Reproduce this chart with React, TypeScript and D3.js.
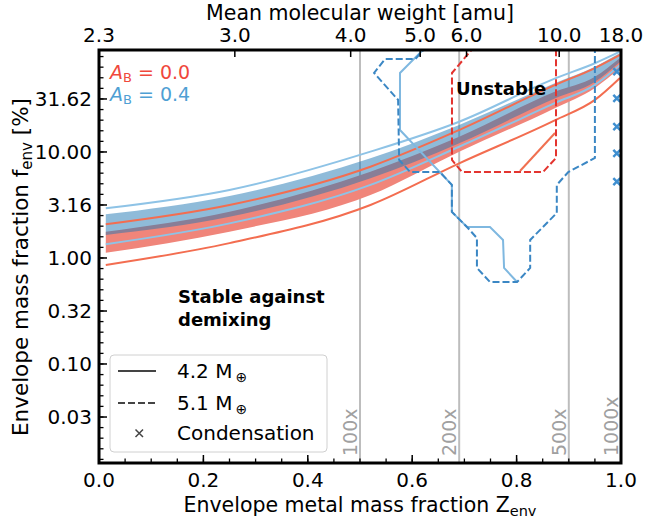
import React from "react";
import * as d3 from "d3";

// ---------- data ----------
const Z_SAMPLES = [0.013, 0.25, 0.52, 0.69, 0.874, 0.95, 0.998];
const BLUE_UPPER_LINE = [2.94, 4.38, 10.07, 19.3, 49.5, 68.7, 88.3];
const BLUE_BAND_TOP = [2.58, 3.85, 8.73, 18.0, 44.8, 63.8, 85.9];
const BLUE_BAND_BOTTOM = [1.65, 2.45, 5.65, 12.1, 32.1, 46.0, 70.6];
const BLUE_LOWER_LINE = [1.35, 2.12, 4.89, 11.2, 29.0, 42.9, 66.2];
const RED_UPPER_LINE = [2.08, 3.16, 7.26, 16.1, 42.9, 61.9, 82.3];
const RED_BAND_TOP = [1.77, 2.73, 6.52, 13.9, 37.1, 51.3, 77.1];
const RED_BAND_BOTTOM = [1.12, 1.77, 3.93, 10.07, 26.0, 40.2, 61.9];
const RED_LOWER_LINE = [0.86, 1.38, 3.16, 7.82, 20.0, 31.0, 49.9];

// instability contours [Z_env, f_env %]
const BLUE_DASHED_CONTOUR: [number, number][] = [
  [0.628, 100], [0.606, 75.3], [0.548, 75.3], [0.527, 55.6], [0.573, 31.0],
  [0.575, 8.41], [0.596, 6.47], [0.653, 6.47], [0.676, 4.89], [0.676, 2.72],
  [0.705, 1.96], [0.724, 1.54], [0.724, 0.805], [0.749, 0.594], [0.801, 0.594],
  [0.826, 0.805], [0.826, 1.48], [0.877, 2.66], [0.877, 4.89], [0.899, 6.47],
  [0.95, 8.78], [0.95, 100],
];
const BLUE_SOLID_CONTOUR: [number, number][] = [
  [0.628, 100], [0.5766, 55.6], [0.5766, 16.1], [0.676, 4.89], [0.676, 2.72],
  [0.705, 1.96], [0.749, 1.96], [0.774, 1.48], [0.776, 0.805], [0.801, 0.594],
];
const RED_DASHED_CONTOUR: [number, number][] = [
  [0.72, 100], [0.6762, 55.6], [0.6762, 8.41], [0.6954, 6.47], [0.8506, 6.47],
  [0.8755, 8.78], [0.8755, 100],
];
const RED_SOLID_CONTOUR: [number, number][] = [
  [0.8065, 6.62], [0.8736, 15.1],
];

const CONDENSATION_Z = 0.992;
const CONDENSATION_F = [57.2, 32.1, 17.3, 9.72, 5.25];

const METALLICITY_Z = [0.5, 0.69, 0.9, 1.0];
const METALLICITY_LABELS = ["100x", "200x", "500x", "1000x"];

const X_TICKS = [0, 0.2, 0.4, 0.6, 0.8, 1.0];
const Y_TICKS = [0.0316, 0.1, 0.316, 1, 3.162, 10, 31.62];
const Y_TICK_LABELS = ["0.03", "0.10", "0.32", "1.00", "3.16", "10.00", "31.62"];
const MU_TICKS = [2.32, 3, 4, 5, 6, 10, 18];
const MU_TICK_LABELS = ["2.3", "3.0", "4.0", "5.0", "6.0", "10.0", "18.0"];
const MU_H = 2.32;
const MU_Z = 18;

const Y_MIN = 0.01164;
const Y_MAX = 91.6;

const FONT = "DejaVu Sans, sans-serif";

export default function App() {
  const W = 647, H = 518;
  const L = 99, R = 621, T = 50, B = 463;
  const x = d3.scaleLinear().domain([0, 1]).range([L, R]);
  const y = d3.scaleLog().domain([Y_MIN, Y_MAX]).range([B, T]);

  const muToZ = (mu: number) => (1 / MU_H - 1 / mu) / (1 / MU_H - 1 / MU_Z);

  const lineGen = d3
    .line<number>()
    .x((_, i) => x(Z_SAMPLES[i]))
    .y((d) => y(d))
    .curve(d3.curveMonotoneX);
  const areaGen = (top: number[], bottom: number[]) =>
    d3
      .area<number>()
      .x((_, i) => x(Z_SAMPLES[i]))
      .y1((_, i) => y(top[i]))
      .y0((_, i) => y(bottom[i]))
      .curve(d3.curveMonotoneX)(top) || "";
  const contour = d3
    .line<[number, number]>()
    .x((d) => x(d[0]))
    .y((d) => y(d[1]));

  const xMinor = d3.range(0, 1.0001, 0.05);
  const yMinor: number[] = [];
  for (let k = -20; k <= 20; k++) {
    const v = Math.pow(10, k / 10);
    if (v >= Y_MIN && v <= Y_MAX) yMinor.push(v);
  }

  const red = "#f0483c";
  const blue = "#4f9fd4";
  const redLine = "#f36d50";
  const blueLine = "#8ec3e6";

  return (
    <svg
      width={W}
      height={H}
      style={{ position: "absolute", left: 0, top: 0, background: "white" }}
      fontFamily={FONT}
    >
      <defs>
        <clipPath id="plot">
          <rect x={L} y={T} width={R - L} height={B - T} />
        </clipPath>
      </defs>
      <rect x={0} y={0} width={W} height={H} fill="white" />

      <g clipPath="url(#plot)">
        {METALLICITY_Z.map((z, i) => (
          <line key={i} x1={x(z)} x2={x(z)} y1={T} y2={B} stroke="#bdbdbd" strokeWidth={2} />
        ))}

        <path d={areaGen(RED_BAND_TOP, RED_BAND_BOTTOM)} fill="#f0857a" />
        <path d={areaGen(BLUE_BAND_TOP, BLUE_BAND_BOTTOM)} fill="#1f77b4" fillOpacity={0.5} />

        <path d={lineGen(RED_UPPER_LINE) || ""} fill="none" stroke={redLine} strokeWidth={2} />
        <path d={lineGen(RED_LOWER_LINE) || ""} fill="none" stroke={redLine} strokeWidth={2} />
        <path d={lineGen(BLUE_UPPER_LINE) || ""} fill="none" stroke={blueLine} strokeWidth={2} />
        <path d={lineGen(BLUE_LOWER_LINE) || ""} fill="none" stroke={blueLine} strokeWidth={2} />

        <path d={contour(BLUE_SOLID_CONTOUR) || ""} fill="none" stroke="#7fb8e0" strokeWidth={2} />
        <path d={contour(BLUE_DASHED_CONTOUR) || ""} fill="none" stroke="#3b87c4" strokeWidth={2} strokeDasharray="7,3" />
        <path d={contour(RED_SOLID_CONTOUR) || ""} fill="none" stroke="#f07050" strokeWidth={2} />
        <path d={contour(RED_DASHED_CONTOUR) || ""} fill="none" stroke="#e3342f" strokeWidth={2} strokeDasharray="7,3" />

        {CONDENSATION_F.map((f, i) => {
          const cx = x(CONDENSATION_Z), cy = y(f), s = 3.5;
          return (
            <path key={i} d={`M${cx - s},${cy - s}L${cx + s},${cy + s}M${cx - s},${cy + s}L${cx + s},${cy - s}`}
              stroke="#3f8fd0" strokeWidth={2.5} />
          );
        })}
      </g>

      {METALLICITY_Z.map((z, i) => (
        <text key={i} transform={`translate(${x(z) - 3},${B - 7}) rotate(-90)`} fontSize={19} fill="#a0a0a0">
          {METALLICITY_LABELS[i]}
        </text>
      ))}

      <text x={110} y={79} fontSize={19} fill={red}>
        <tspan fontStyle="italic">A</tspan>
        <tspan fontSize={13} dy={3}>B</tspan>
        <tspan dy={-3}> = 0.0</tspan>
      </text>
      <text x={110} y={101} fontSize={19} fill={blue}>
        <tspan fontStyle="italic">A</tspan>
        <tspan fontSize={13} dy={3}>B</tspan>
        <tspan dy={-3}> = 0.4</tspan>
      </text>
      <text x={456} y={95} fontSize={18} fontWeight="bold">Unstable</text>
      <text x={178} y={303} fontSize={18} fontWeight="bold">Stable against</text>
      <text x={178} y={326} fontSize={18} fontWeight="bold">demixing</text>

      <rect x={110} y={355} width={217} height={97} rx={4} fill="white" fillOpacity={0.85} stroke="#d0d0d0" strokeWidth={1} />
      <line x1={118} x2={156} y1={371} y2={371} stroke="#444" strokeWidth={2} />
      <line x1={118} x2={156} y1={403} y2={403} stroke="#444" strokeWidth={2} strokeDasharray="7,3" />
      <path d="M135.5,429.5L143,437M135.5,437L143,429.5" stroke="#444" strokeWidth={1.5} />
      <text x={177} y={378} fontSize={20}>4.2 M<tspan fontSize={14} dx={3} dy={4}>⊕</tspan></text>
      <text x={177} y={410} fontSize={20}>5.1 M<tspan fontSize={14} dx={3} dy={4}>⊕</tspan></text>
      <text x={177} y={440} fontSize={20}>Condensation</text>

      <rect x={L} y={T} width={R - L} height={B - T} fill="none" stroke="black" strokeWidth={3} />

      {xMinor.map((v, i) => (
        <line key={i} x1={x(v)} x2={x(v)} y1={B} y2={B - 4.5} stroke="black" strokeWidth={1.3} />
      ))}
      {X_TICKS.map((v, i) => (
        <g key={i}>
          <line x1={x(v)} x2={x(v)} y1={B} y2={B - 8} stroke="black" strokeWidth={1.5} />
          <text x={x(v)} y={487} fontSize={20} textAnchor="middle">{v.toFixed(1)}</text>
        </g>
      ))}
      <text x={(L + R) / 2} y={512} fontSize={20.5} textAnchor="middle">
        Envelope metal mass fraction Z<tspan fontSize={14.5} dy={4}>env</tspan>
      </text>

      {yMinor.map((v, i) => (
        <line key={i} x1={L} x2={L + 4.5} y1={y(v)} y2={y(v)} stroke="black" strokeWidth={1.3} />
      ))}
      {Y_TICKS.map((v, i) => (
        <g key={i}>
          <line x1={L} x2={L + 8} y1={y(v)} y2={y(v)} stroke="black" strokeWidth={1.5} />
          <text x={92} y={y(v)} dy="0.36em" fontSize={20} textAnchor="end">{Y_TICK_LABELS[i]}</text>
        </g>
      ))}
      <text transform={`translate(28,267) rotate(-90)`} fontSize={21.5} textAnchor="middle">
        Envelope mass fraction f<tspan fontSize={15} dy={4}>env</tspan><tspan dy={-4}> [%]</tspan>
      </text>

      {MU_TICKS.map((mu, i) => (
        <g key={i}>
          <line x1={x(muToZ(mu))} x2={x(muToZ(mu))} y1={T} y2={T + 7} stroke="black" strokeWidth={1.5} />
          <text x={x(muToZ(mu))} y={42} fontSize={20} textAnchor="middle">{MU_TICK_LABELS[i]}</text>
        </g>
      ))}
      <text x={(L + R) / 2} y={20} fontSize={20.5} textAnchor="middle">Mean molecular weight [amu]</text>
    </svg>
  );
}
